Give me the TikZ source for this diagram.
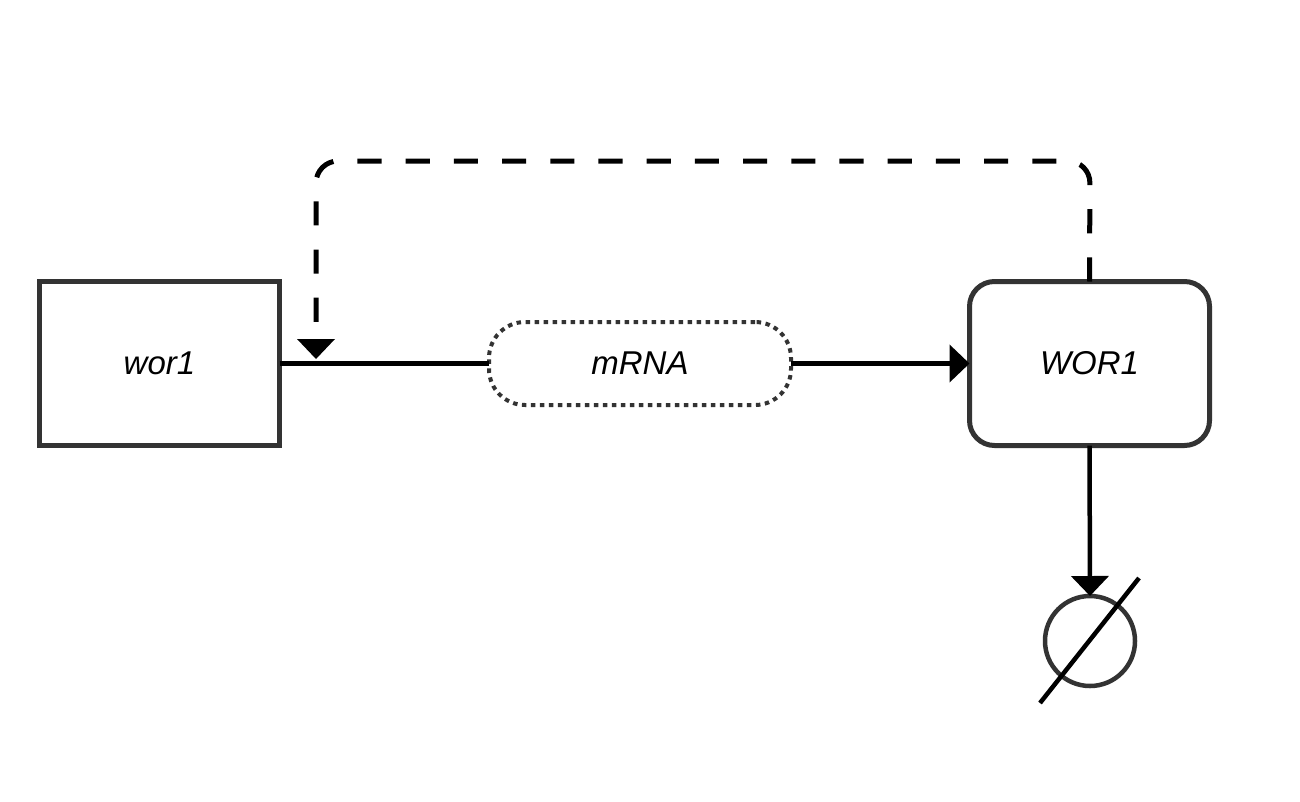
\documentclass[tikz,border=0pt]{standalone}
\usepackage{fontspec}
\setmainfont{Liberation Sans}
\usetikzlibrary{arrows.meta}
\definecolor{bd}{HTML}{333333}
\begin{document}
\begin{tikzpicture}[x=1pt,y=-1pt,
  lbl/.style={font=\fontsize{33}{39}\selectfont\itshape, text=black},
  genebox/.style={lbl, draw=bd, line width=5pt, outer sep=0pt, inner sep=0pt, rectangle, minimum width=240pt, minimum height=164pt},
  rnabox/.style={lbl, draw=bd, line width=4pt, outer sep=0pt, inner sep=0pt, rectangle, rounded corners=36pt, dash pattern=on 4.5pt off 4.5pt, minimum width=302pt, minimum height=83pt},
  protbox/.style={genebox, rounded corners=25pt},
  sink/.style={draw=bd, line width=4.5pt, circle, outer sep=0pt, inner sep=0pt, minimum size=90pt},
  conn/.style={line width=4.5pt, draw=black},
  tip/.style={-{Triangle[length=20pt,width=37pt]}},
  inhib/.style={line width=5pt, dash pattern=on 24.1pt off 24.1pt, rounded corners=22pt}
]
\useasboundingbox (0,0) rectangle (1300,801);
\node[genebox] (wor1) at (159.5,363.5) {wor1};
\node[rnabox] (mrna) at (640,363.5) {mRNA};
\node[protbox] (WOR1) at (1089.5,363.5) {WOR1};
\node[sink] (deg) at (1090,641) {};
\coordinate (s1) at (1040,703);
\coordinate (s2) at (1139,578);
\coordinate (c1) at (1090,161);
\coordinate (c2) at (316,161);
\coordinate (inh) at (316,359);
\coordinate (dend) at (316,322);

\draw[conn] (wor1.east) -- (mrna.west);
\draw[conn, tip] (mrna.east) -- (WOR1.west);
\draw[conn, tip] (WOR1.south) -- (deg.north);
\draw[conn] (s1) -- (s2);
\draw[inhib] (WOR1.north) -- (c1) -- (c2) -- (dend);
\fill (inh) -- ++(-19,-20) -- ++(38,0) -- cycle;
\end{tikzpicture}
\end{document}
